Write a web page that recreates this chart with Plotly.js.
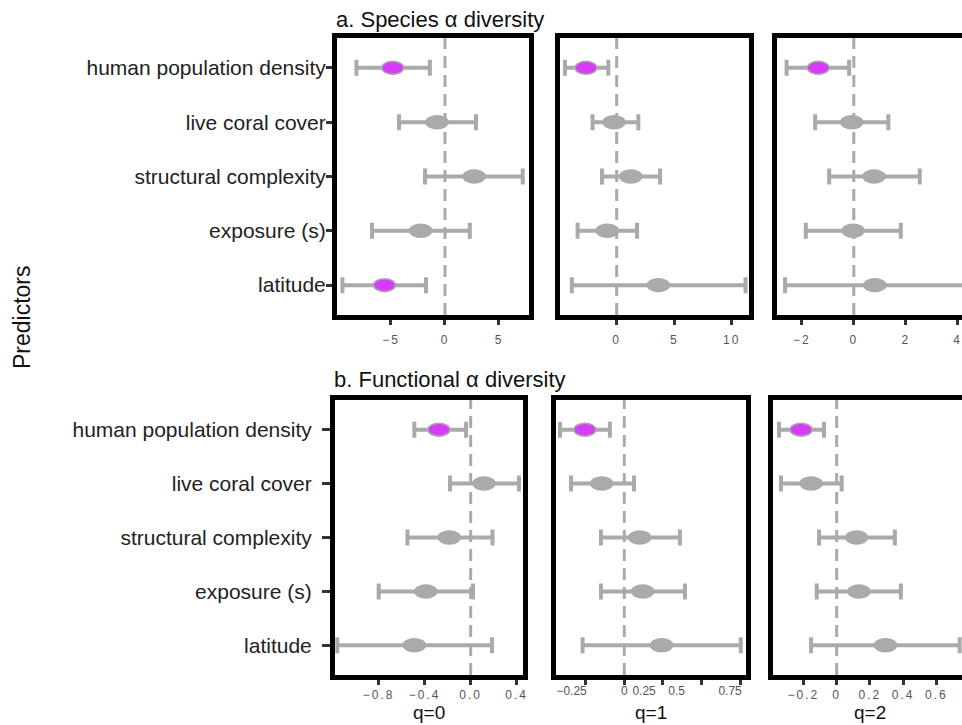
<!DOCTYPE html>
<html>
<head>
<meta charset="utf-8">
<script src="https://cdn.plot.ly/plotly-3.0.1.min.js"></script>
<style>
html, body { margin: 0; padding: 0; overflow: hidden; background: #fff; }
#chart { width: 980px; height: 740px; }
.xaxislayer-above text { letter-spacing: 2px; }
</style>
</head>
<body>
<div id="chart"></div>
<script>
// ---- data ----
const predictors = ["human population density", "live coral cover", "structural complexity", "exposure (s)", "latitude"];
const qLabels = ["q=0", "q=1", "q=2"];

// a. Species alpha diversity
const spQ0Est = [-4.84, -0.74, 2.70, -2.25, -5.60];
const spQ0Lo  = [-8.20, -4.26, -1.85, -6.76, -9.50];
const spQ0Hi  = [-1.40, 2.87, 7.20, 2.30, -1.76];
const spQ1Est = [-2.67, -0.23, 1.22, -0.82, 3.62];
const spQ1Lo  = [-4.50, -2.10, -1.28, -3.40, -3.90];
const spQ1Hi  = [-0.73, 1.88, 3.77, 1.77, 11.20];
const spQ2Est = [-1.37, -0.08, 0.78, -0.03, 0.81];
const spQ2Lo  = [-2.59, -1.49, -0.95, -1.85, -2.65];
const spQ2Hi  = [-0.18, 1.33, 2.54, 1.81, 4.30];

// b. Functional alpha diversity
const fnQ0Est = [-0.276, 0.116, -0.186, -0.390, -0.490];
const fnQ0Lo  = [-0.490, -0.180, -0.550, -0.800, -1.160];
const fnQ0Hi  = [-0.040, 0.420, 0.190, 0.020, 0.185];
const fnQ1Est = [-0.255, -0.146, 0.100, 0.119, 0.242];
const fnQ1Lo  = [-0.416, -0.345, -0.151, -0.151, -0.270];
const fnQ1Hi  = [-0.093, 0.063, 0.360, 0.393, 0.754];
const fnQ2Est = [-0.214, -0.154, 0.120, 0.134, 0.294];
const fnQ2Lo  = [-0.347, -0.335, -0.106, -0.120, -0.154];
const fnQ2Hi  = [-0.076, 0.030, 0.350, 0.386, 0.740];

// tick labels
const spQ0Ticks = [-5, 0, 5];
const spQ1Ticks = [0, 5, 10];
const spQ2Ticks = [-2, 0, 2, 4];
const fnQ0Ticks = [-0.8, -0.4, 0.0, 0.4];
const fnQ0TickText = ["\u22120.8", "\u22120.4", "0.0", "0.4"];
const fnQ1Ticks = [-0.25, 0, 0.25, 0.5, 0.75];
const fnQ1TickText = ["\u22120.25", "0", "0.25", "0.5", "0.75"];
const fnQ1LabelPos = [-0.341, 0, 0.128, 0.339, 0.685];
const fnQ2Ticks = [-0.2, 0, 0.2, 0.4, 0.6];
const fnQ2TickText = ["\u22120.2", "0", "0.2", "0.4", "0.6"];

// ---- layout helpers ----
const W = 980, H = 740;
const fx = p => p / W;
const fy = p => 1 - p / H;
const GREY = "#aaaaaa";
const MAGENTA = "#d63cfa";
const TICKFONT = {size: 12, color: "#555555"};

const panels = [
  {est: spQ0Est, lo: spQ0Lo, hi: spQ0Hi, ticks: spQ0Ticks, text: null, xd: [337, 529], yd: [38, 315], range: [-10.0, 7.78], labels: true},
  {est: spQ1Est, lo: spQ1Lo, hi: spQ1Hi, ticks: spQ1Ticks, text: null, xd: [560, 749], yd: [38, 315], range: [-4.93, 11.5], labels: false},
  {est: spQ2Est, lo: spQ2Lo, hi: spQ2Hi, ticks: spQ2Ticks, text: null, xd: [777, 968], yd: [38, 315], range: [-2.96, 4.4], labels: false},
  {est: fnQ0Est, lo: fnQ0Lo, hi: fnQ0Hi, ticks: fnQ0Ticks, text: fnQ0TickText, xd: [335, 523], yd: [400, 675], range: [-1.18, 0.455], labels: true, title: qLabels[0]},
  {est: fnQ1Est, lo: fnQ1Lo, hi: fnQ1Hi, ticks: fnQ1Ticks, text: null, xd: [556, 746], yd: [400, 675], range: [-0.442, 0.788], labels: false, title: qLabels[1], hideTickLabels: true},
  {est: fnQ2Est, lo: fnQ2Lo, hi: fnQ2Hi, ticks: fnQ2Ticks, text: fnQ2TickText, xd: [773, 966], yd: [400, 675], range: [-0.383, 0.778], labels: false, title: qLabels[2]}
];

const idx = predictors.map((_, i) => i);
const traces = [];
const shapes = [];
const annotations = [];
const layout = {
  width: W, height: H,
  margin: {l: 0, r: 0, t: 0, b: 0},
  paper_bgcolor: "#ffffff", plot_bgcolor: "#ffffff",
  showlegend: false,
  font: {family: "Liberation Sans, Arial, sans-serif", color: "#222"},
  annotations: annotations,
  shapes: shapes
};

panels.forEach((p, i) => {
  const xa = i === 0 ? "x" : "x" + (i + 1);
  const ya = i === 0 ? "y" : "y" + (i + 1);
  const xKey = i === 0 ? "xaxis" : "xaxis" + (i + 1);
  const yKey = i === 0 ? "yaxis" : "yaxis" + (i + 1);
  const colors = p.est.map((_, k) => (p.hi[k] < 0 || p.lo[k] > 0) ? MAGENTA : GREY);

  traces.push({
    type: "scatter", mode: "markers",
    x: p.est, y: idx, xaxis: xa, yaxis: ya,
    marker: {size: 12, color: colors, line: {color: GREY, width: 1.5}},
    error_x: {
      type: "data", symmetric: false,
      array: p.hi.map((h, k) => h - p.est[k]),
      arrayminus: p.lo.map((l, k) => p.est[k] - l),
      color: GREY, thickness: 4, width: 8
    },
    hoverinfo: "skip", cliponaxis: true
  });

  // zero reference line
  shapes.push({
    type: "line", xref: xa, yref: ya + " domain",
    x0: 0, x1: 0, y0: 0, y1: 1,
    line: {color: GREY, width: 3, dash: "12px,7px"}, layer: "below"
  });
  // elliptical point markers
  p.est.forEach((e, k) => {
    shapes.push({
      type: "circle", xref: xa, yref: ya,
      xsizemode: "pixel", ysizemode: "pixel",
      xanchor: e, yanchor: idx[k],
      x0: -11, x1: 11, y0: -6.5, y1: 6.5,
      fillcolor: colors[k], line: {color: GREY, width: 1.5}, layer: "above"
    });
  });

  layout[xKey] = {
    domain: [fx(p.xd[0]), fx(p.xd[1])],
    anchor: ya, range: p.range,
    tickmode: "array", tickvals: p.ticks,
    ticktext: p.text ? p.text : undefined,
    showticklabels: !p.hideTickLabels,
    ticks: "outside", ticklen: 5, tickwidth: 3, tickcolor: "#333",
    tickfont: TICKFONT, ticklabelstandoff: i >= 3 ? 0 : 5,
    showline: true, linewidth: 5, linecolor: "#000", mirror: true,
    showgrid: false, zeroline: false, fixedrange: true
  };
  layout[yKey] = {
    domain: [fy(p.yd[1]), fy(p.yd[0])],
    anchor: xa, range: [4.55, -0.55],
    tickmode: "array", tickvals: idx, ticktext: predictors,
    showticklabels: p.labels,
    ticks: p.labels ? "outside" : "", ticklen: i === 3 ? 8 : 6, tickwidth: 3, tickcolor: "#333",
    tickfont: {size: 21, color: "#222"},
    ticklabelstandoff: i === 3 ? 6 : -4,
    showline: true, linewidth: 5, linecolor: "#000", mirror: true,
    showgrid: false, zeroline: false, fixedrange: true
  };

  if (p.title) {
    annotations.push({
      text: p.title, xref: "paper", yref: "paper",
      x: (fx(p.xd[0]) + fx(p.xd[1])) / 2, y: fy(725),
      xanchor: "center", yanchor: "bottom", showarrow: false,
      font: {size: 19, color: "#111"}
    });
  }
});

// overlay axis carrying the (offset) tick labels of panel b, q=1
layout.xaxis7 = {
  overlaying: "x5", anchor: "y5", side: "bottom",
  range: panels[4].range,
  tickmode: "array", tickvals: fnQ1LabelPos, ticktext: fnQ1TickText,
  ticks: "outside", ticklen: 5, tickcolor: "rgba(0,0,0,0)", tickwidth: 3,
  tickfont: TICKFONT, ticklabelstandoff: 0,
  showline: false, showgrid: false, zeroline: false, fixedrange: true
};
traces.push({type: "scatter", mode: "markers", x: [], y: [], xaxis: "x7", yaxis: "y5", hoverinfo: "skip"});

annotations.push(
  {text: "a. Species \u03b1 diversity", xref: "paper", yref: "paper", x: fx(334), y: fy(34),
   xanchor: "left", yanchor: "bottom", showarrow: false, font: {size: 22, color: "#111"}},
  {text: "b. Functional \u03b1 diversity", xref: "paper", yref: "paper", x: fx(332), y: fy(394),
   xanchor: "left", yanchor: "bottom", showarrow: false, font: {size: 22, color: "#111"}},
  {text: "Predictors", xref: "paper", yref: "paper", x: fx(22), y: fy(317),
   xanchor: "center", yanchor: "middle", textangle: -90, showarrow: false, font: {size: 23, color: "#111"}}
);

Plotly.newPlot("chart", traces, layout, {displayModeBar: false, staticPlot: true});
</script>
</body>
</html>
